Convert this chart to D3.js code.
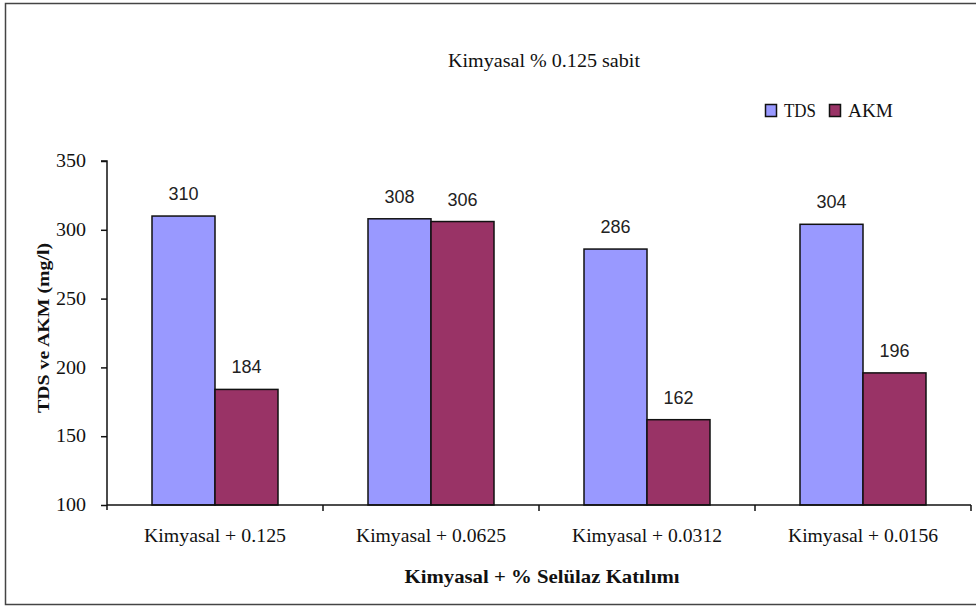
<!DOCTYPE html>
<html>
<head>
<meta charset="utf-8">
<script src="https://cdn.jsdelivr.net/npm/d3@7"></script>
<style>
  body { margin: 0; background: #fff; }
  .serif { font-family: "Liberation Serif", "Times New Roman", serif; }
  .sans { font-family: "Liberation Sans", Arial, sans-serif; }
</style>
</head>
<body>
<svg id="chart" width="976" height="607"></svg>
<script>
var categories = ['Kimyasal + 0.125', 'Kimyasal + 0.0625', 'Kimyasal + 0.0312', 'Kimyasal + 0.0156'];
var seriesNames = ['TDS', 'AKM'];
var tdsValues = [310, 308, 286, 304];
var akmValues = [184, 306, 162, 196];
var yTicks = [100, 150, 200, 250, 300, 350];
var colors = ['#9999FF', '#993366'];

var svg = d3.select('#chart');
var plotLeft = 107, plotRight = 971, plotTop = 161, plotBottom = 505;

// outer frame
svg.append('rect')
  .attr('x', 5.5).attr('y', 3.5)
  .attr('width', 980).attr('height', 601)
  .attr('fill', 'none')
  .attr('stroke', '#444')
  .attr('stroke-width', 1.5);

var x = d3.scaleBand().domain(categories).range([plotLeft, plotRight]);
var inner = d3.scaleBand().domain(seriesNames).range([0, 126]);
var y = d3.scaleLinear().domain([100, 350]).range([plotBottom, plotTop]);

var rows = categories.map(function(c, i) {
  return { cat: c, vals: [tdsValues[i], akmValues[i]] };
});

// bars
var groups = svg.selectAll('g.grp').data(rows).enter().append('g')
  .attr('class', 'grp')
  .attr('transform', function(d) {
    return 'translate(' + (x(d.cat) + x.bandwidth() / 2 - 63) + ',0)';
  });

groups.selectAll('rect').data(function(d) {
  return d.vals.map(function(v, j) { return { s: seriesNames[j], v: v, j: j }; });
}).enter().append('rect')
  .attr('x', function(d) { return inner(d.s); })
  .attr('y', function(d) { return y(d.v); })
  .attr('width', inner.bandwidth())
  .attr('height', function(d) { return plotBottom - y(d.v); })
  .attr('fill', function(d) { return colors[d.j]; })
  .attr('stroke', '#111')
  .attr('stroke-width', 1.5);

groups.selectAll('text').data(function(d) {
  return d.vals.map(function(v, j) { return { s: seriesNames[j], v: v }; });
}).enter().append('text')
  .attr('class', 'sans')
  .attr('x', function(d) { return inner(d.s) + inner.bandwidth() / 2; })
  .attr('y', function(d) { return y(d.v) - 16; })
  .attr('text-anchor', 'middle')
  .attr('font-size', 18)
  .attr('fill', '#222')
  .text(function(d) { return d.v; });

// y axis
var yAxis = d3.axisLeft(y).tickValues(yTicks).tickSize(6).tickPadding(15);
var yg = svg.append('g').attr('transform', 'translate(' + plotLeft + ',0)').call(yAxis);
yg.select('.domain').attr('stroke', '#111').attr('stroke-width', 1.5)
  .attr('d', 'M-6,' + plotTop + 'H0V' + (plotBottom + 5));
yg.selectAll('.tick line').attr('stroke', '#111').attr('stroke-width', 1.5);
yg.selectAll('.tick text')
  .attr('class', 'serif')
  .attr('font-size', 18)
  .attr('fill', '#111')
  .attr('textLength', 30)
  .attr('lengthAdjust', 'spacingAndGlyphs');

// x axis
svg.append('line')
  .attr('x1', plotLeft).attr('x2', plotRight)
  .attr('y1', plotBottom).attr('y2', plotBottom)
  .attr('stroke', '#111').attr('stroke-width', 1.5);
var boundaries = categories.map(function(c) { return x(c) + x.bandwidth(); });
svg.selectAll('line.xt').data(boundaries).enter().append('line')
  .attr('class', 'xt')
  .attr('x1', function(d) { return d; }).attr('x2', function(d) { return d; })
  .attr('y1', plotBottom).attr('y2', plotBottom + 6)
  .attr('stroke', '#111').attr('stroke-width', 1.5);

svg.selectAll('text.xl').data(categories).enter().append('text')
  .attr('class', 'serif xl')
  .attr('x', function(d) { return x(d) + x.bandwidth() / 2; })
  .attr('y', 542)
  .attr('text-anchor', 'middle')
  .attr('font-size', 18)
  .attr('fill', '#111')
  .attr('textLength', function(d) { return d.length > 16 ? 150 : 142; })
  .attr('lengthAdjust', 'spacingAndGlyphs')
  .text(function(d) { return d; });

// axis titles
svg.append('text')
  .attr('class', 'serif')
  .attr('x', 542).attr('y', 583)
  .attr('text-anchor', 'middle')
  .attr('font-size', 19)
  .attr('font-weight', 'bold')
  .attr('fill', '#111')
  .attr('textLength', 275)
  .attr('lengthAdjust', 'spacingAndGlyphs')
  .text('Kimyasal + %  Selülaz Katılımı');

svg.append('text')
  .attr('class', 'serif')
  .attr('transform', 'translate(49,328) rotate(-90)')
  .attr('text-anchor', 'middle')
  .attr('font-size', 17)
  .attr('font-weight', 'bold')
  .attr('fill', '#111')
  .attr('textLength', 170)
  .attr('lengthAdjust', 'spacingAndGlyphs')
  .text('TDS ve AKM (mg/l)');

// title
svg.append('text')
  .attr('class', 'serif')
  .attr('x', 544).attr('y', 67)
  .attr('text-anchor', 'middle')
  .attr('font-size', 18)
  .attr('fill', '#111')
  .attr('textLength', 192)
  .attr('lengthAdjust', 'spacingAndGlyphs')
  .text('Kimyasal % 0.125 sabit');

// legend
var legend = svg.append('g').attr('transform', 'translate(765,104)');
var lx = [0, 64];
var lw = [32, 45];
seriesNames.forEach(function(s, i) {
  legend.append('rect')
    .attr('x', lx[i] + 0.5).attr('y', 0.5)
    .attr('width', 11).attr('height', 12)
    .attr('fill', colors[i])
    .attr('stroke', '#111').attr('stroke-width', 1.5);
  legend.append('text')
    .attr('class', 'serif')
    .attr('x', lx[i] + 19).attr('y', 13)
    .attr('font-size', 18)
    .attr('fill', '#111')
    .attr('textLength', lw[i])
    .attr('lengthAdjust', 'spacingAndGlyphs')
    .text(s);
});
</script>
</body>
</html>
